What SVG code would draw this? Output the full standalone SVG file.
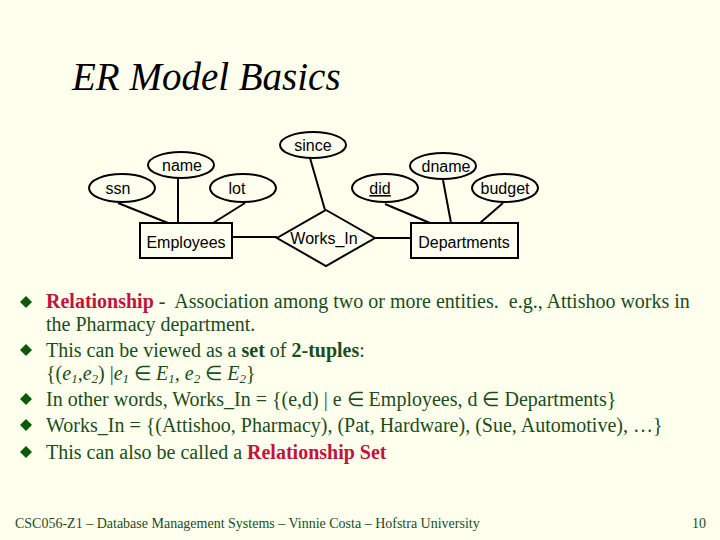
<svg xmlns="http://www.w3.org/2000/svg" width="720" height="540" viewBox="0 0 720 540">
<style>
.sh{fill:#fffff0;stroke:#000;stroke-width:2}
.ln{stroke:#000;stroke-width:2}
.lb{font-family:"Liberation Sans",Arial,sans-serif;font-size:16px;text-anchor:middle;fill:#000}
.t{font-family:"Liberation Serif","Times New Roman",serif;font-size:20px;fill:#1a4d1a}
.r{fill:#c0143c;font-weight:bold}
.b{font-weight:bold}
.bu{fill:#0a5a0a}
</style>
<rect width="720" height="540" fill="#ffffee"/>
<text x="72" y="90" font-family="Liberation Serif,serif" font-style="italic" font-size="39">ER Model Basics</text>
<g id="connectors">
<line class="ln" x1="118" y1="203" x2="168" y2="223"/>
<line class="ln" x1="178" y1="178" x2="178" y2="222"/>
<line class="ln" x1="245" y1="203" x2="213" y2="223"/>
<line class="ln" x1="232" y1="237" x2="277" y2="237"/>
<line class="ln" x1="310" y1="158" x2="325" y2="210"/>
<line class="ln" x1="375" y1="238" x2="411" y2="238"/>
<line class="ln" x1="385" y1="204" x2="430" y2="223"/>
<line class="ln" x1="443" y1="180" x2="451" y2="223"/>
<line class="ln" x1="503" y1="203" x2="480" y2="223"/>
</g>
<g id="ssn"><ellipse class="sh" cx="122" cy="188" rx="33" ry="14"/><text class="lb" x="118" y="194">ssn</text></g>
<g id="name"><ellipse class="sh" cx="181" cy="165" rx="33" ry="13"/><text class="lb" x="182" y="171">name</text></g>
<g id="lot"><ellipse class="sh" cx="243" cy="188" rx="33" ry="14"/><text class="lb" x="237" y="194">lot</text></g>
<g id="since"><ellipse class="sh" cx="313" cy="145" rx="33" ry="13"/><text class="lb" x="313" y="151">since</text></g>
<g id="did"><ellipse class="sh" cx="385" cy="188" rx="33" ry="14"/><text class="lb" x="380" y="194" text-decoration="underline">did</text></g>
<g id="dname"><ellipse class="sh" cx="443" cy="166" rx="33" ry="13"/><text class="lb" x="446" y="172">dname</text></g>
<g id="budget"><ellipse class="sh" cx="505" cy="188" rx="33" ry="14"/><text class="lb" x="505" y="194">budget</text></g>
<g id="employees"><rect class="sh" x="140" y="223" width="92" height="35"/><text class="lb" x="186" y="248">Employees</text></g>
<g id="departments"><rect class="sh" x="411" y="223" width="107" height="35"/><text class="lb" x="464" y="248">Departments</text></g>
<g id="works_in"><polygon class="sh" points="326,210 375,238 326,266 277,238"/><text class="lb" x="324" y="244">Works_In</text></g>
<g id="text">
<polygon class="bu" points="26,296 32,302 26,308 20,302"/>
<polygon class="bu" points="26,344 32,350 26,356 20,350"/>
<polygon class="bu" points="26,393 32,399 26,405 20,399"/>
<polygon class="bu" points="26,419 32,425 26,431 20,425"/>
<polygon class="bu" points="26,446 32,452 26,458 20,452"/>
<text class="t" x="46" y="308" xml:space="preserve"><tspan class="r">Relationship</tspan> -  Association among two or more entities.  e.g., Attishoo works in</text>
<text class="t" x="46" y="331">the Pharmacy department.</text>
<text class="t" x="46" y="357">This can be viewed as a <tspan class="b">set</tspan> of <tspan class="b">2-tuples</tspan>:</text>
<text class="t" x="46" y="380">{(<tspan font-style="italic">e<tspan font-size="13" dy="3">1</tspan><tspan dy="-3">,e</tspan><tspan font-size="13" dy="3">2</tspan></tspan><tspan dy="-3">) |</tspan><tspan font-style="italic">e<tspan font-size="13" dy="3">1</tspan></tspan><tspan dy="-3"> ∈ </tspan><tspan font-style="italic">E<tspan font-size="13" dy="3">1</tspan><tspan dy="-3">, e</tspan><tspan font-size="13" dy="3">2</tspan></tspan><tspan dy="-3"> ∈ </tspan><tspan font-style="italic">E<tspan font-size="13" dy="3">2</tspan></tspan><tspan dy="-3">}</tspan></text>
<text class="t" x="46" y="406">In other words, Works_In = {(e,d) | e ∈ Employees, d ∈ Departments}</text>
<text class="t" x="46" y="432">Works_In = {(Attishoo, Pharmacy), (Pat, Hardware), (Sue, Automotive), …}</text>
<text class="t" x="46" y="459">This can also be called a <tspan class="r">Relationship Set</tspan></text>
<text x="15" y="528" font-family="Liberation Serif,serif" font-size="14" fill="#1a4d1a">CSC056-Z1 – Database Management Systems – Vinnie Costa – Hofstra University</text>
<text x="706" y="528" font-family="Liberation Serif,serif" font-size="14" fill="#1a4d1a" text-anchor="end">10</text>
</g>
</svg>
